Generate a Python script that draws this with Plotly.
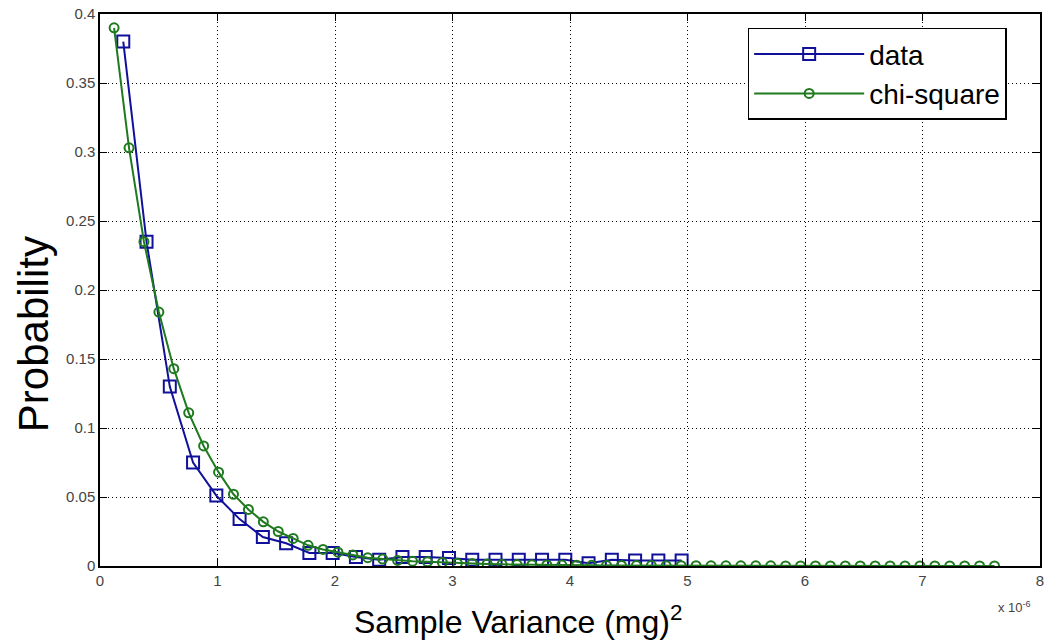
import plotly.graph_objects as go

# Data (x in units of 1e-6 (mg)^2)
data_x = [0.198 * k for k in range(1, 26)]
data_y = [0.38, 0.235, 0.13, 0.075, 0.051, 0.034, 0.021, 0.0165, 0.0095, 0.0095,
          0.0065, 0.0045, 0.0065, 0.0065, 0.0058, 0.0045, 0.0045, 0.0045, 0.0045,
          0.0045, 0.002, 0.0045, 0.004, 0.004, 0.004]

chi_x = [0.12 + 0.127 * k for k in range(60)]
chi_y = [0.39, 0.303, 0.235, 0.184, 0.143, 0.111, 0.087, 0.068, 0.052, 0.041,
         0.032, 0.025, 0.020, 0.015, 0.012, 0.010, 0.008, 0.006, 0.005, 0.004,
         0.0035, 0.003, 0.0025, 0.002, 0.0018, 0.0015, 0.0012, 0.001, 0.0009, 0.0008,
         0.0007, 0.0006, 0.0005, 0.0004, 0.0004, 0.0003, 0.0003, 0.0002, 0.0002, 0.0002,
         0.0001, 0.0001, 0.0001, 0.0001, 0.0001, 0.0, 0.0, 0.0, 0.0, 0.0,
         0.0, 0.0, 0.0, 0.0, 0.0, 0.0, 0.0, 0.0, 0.0, 0.0]

x_ticks = [0, 1, 2, 3, 4, 5, 6, 7, 8]
y_ticks = [0, 0.05, 0.1, 0.15, 0.2, 0.25, 0.3, 0.35, 0.4]
y_tick_labels = ["0", "0.05", "0.1", "0.15", "0.2", "0.25", "0.3", "0.35", "0.4"]

BLUE = "#10109a"
GREEN = "#1f7a1f"
FONT = "Liberation Sans, Arial"

fig = go.Figure()
fig.add_trace(go.Scatter(
    x=data_x, y=data_y, name="data", mode="lines+markers",
    line=dict(color=BLUE, width=2),
    marker=dict(symbol="square-open", size=12, color=BLUE, line=dict(width=2, color=BLUE)),
))
fig.add_trace(go.Scatter(
    x=chi_x, y=chi_y, name="chi-square", mode="lines+markers",
    line=dict(color=GREEN, width=2),
    marker=dict(symbol="circle-open", size=9, color=GREEN, line=dict(width=2, color=GREEN)),
))

axis_common = dict(
    showline=True, linecolor="black", linewidth=1.5, mirror="ticks",
    ticks="inside", ticklen=7, tickcolor="black",
    showgrid=True, gridcolor="black", griddash="1px 3px", gridwidth=1,
    zeroline=False, ticklabeloverflow="allow",
    tickfont=dict(family=FONT, size=15, color="#444444"),
)

fig.update_xaxes(range=[0, 8], tickvals=x_ticks, ticktext=[str(v) for v in x_ticks],
                 **axis_common)
fig.update_yaxes(range=[0, 0.4], tickvals=y_ticks, ticktext=y_tick_labels,
                 **axis_common)

# axis titles
fig.add_annotation(x=0.445, y=0, xref="paper", yref="paper", xanchor="center", yanchor="middle",
                   yshift=-54, text="Sample Variance (mg)<sup>2</sup>", showarrow=False,
                   font=dict(family=FONT, size=32, color="black"))
fig.add_annotation(x=0, y=0.42, xref="paper", yref="paper", xanchor="center", yanchor="middle",
                   xshift=-67, text="Probability", textangle=-90, showarrow=False,
                   font=dict(family=FONT, size=42, color="black"))
fig.add_annotation(x=0.9926, y=0, xref="paper", yref="paper", xanchor="right", yanchor="top",
                   yshift=-31, text="x 10<sup>-6</sup>", showarrow=False,
                   font=dict(family=FONT, size=13, color="#444444"))

fig.update_layout(
    width=1047, height=643,
    margin=dict(l=100, r=3, t=14, b=77),
    plot_bgcolor="white", paper_bgcolor="white",
    legend=dict(x=0.689, y=0.975, xanchor="left", yanchor="top",
                bgcolor="white", bordercolor="black", borderwidth=1.5,
                font=dict(family=FONT, size=28, color="black"),
                itemwidth=110),
    showlegend=True,
)

fig.write_html("out.html", config={"displayModeBar": False},
               post_script="document.body.style.margin='0';document.body.style.overflow='hidden';")
